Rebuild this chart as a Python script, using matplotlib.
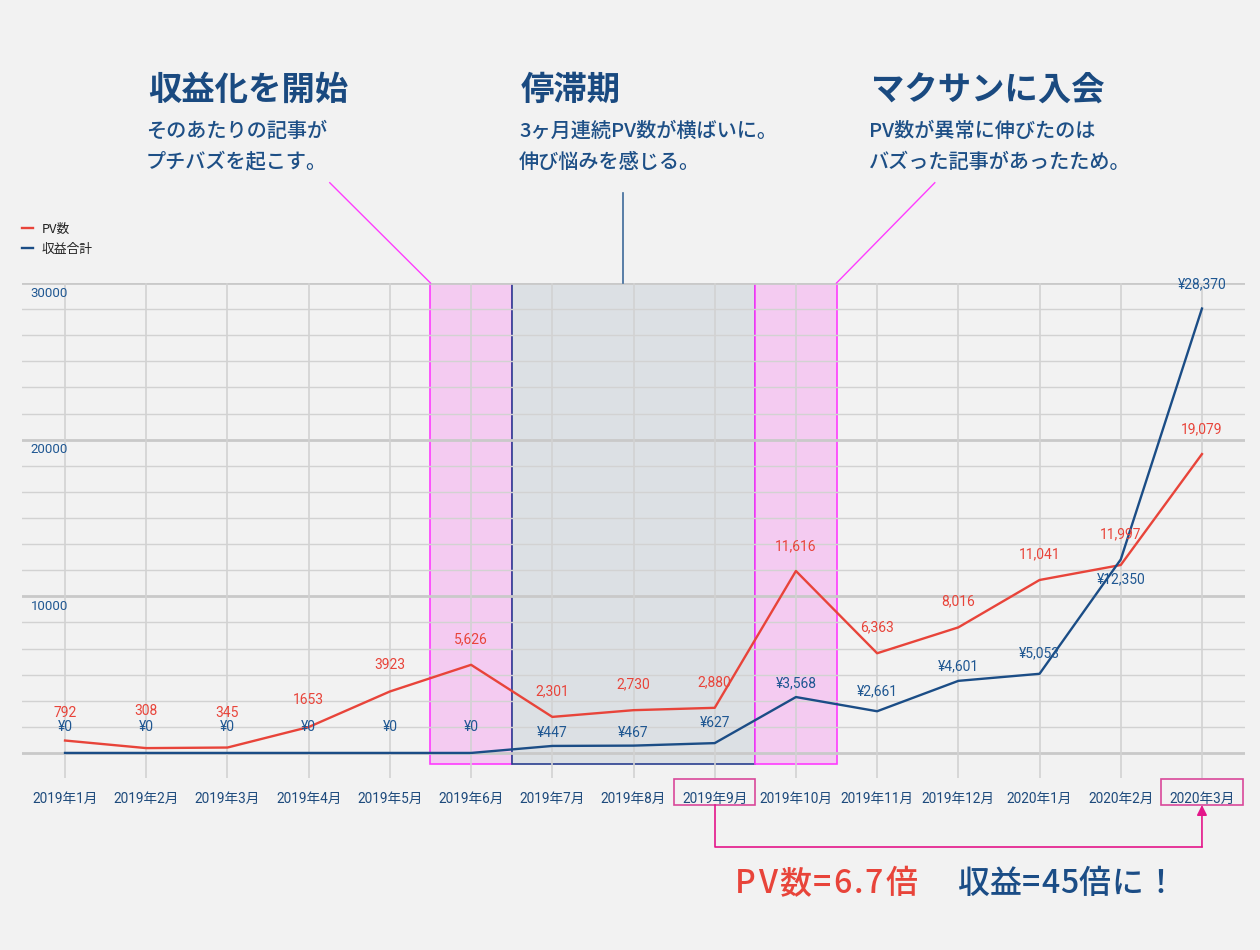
import matplotlib.pyplot as plt
from matplotlib.patches import Rectangle
from matplotlib.transforms import blended_transform_factory

months = ['2019年1月', '2019年2月', '2019年3月', '2019年4月', '2019年5月', '2019年6月',
          '2019年7月', '2019年8月', '2019年9月', '2019年10月', '2019年11月', '2019年12月',
          '2020年1月', '2020年2月', '2020年3月']
pv = [792, 308, 345, 1653, 3923, 5626, 2301, 2730, 2880, 11616, 6363, 8016, 11041, 11997, 19079]
revenue = [0, 0, 0, 0, 0, 0, 447, 467, 627, 3568, 2661, 4601, 5053, 12350, 28370]
pv_text = ['792', '308', '345', '1653', '3923', '5,626', '2,301', '2,730', '2,880',
           '11,616', '6,363', '8,016', '11,041', '11,997', '19,079']
rev_text = ['¥0', '¥0', '¥0', '¥0', '¥0', '¥0', '¥447', '¥467', '¥627', '¥3,568',
            '¥2,661', '¥4,601', '¥5,053', '¥12,350', '¥28,370']
y_labels = [10000, 20000, 30000]

# label offsets in pixels above each point (dodging like the original)
pv_off = [28, 37, 35, 27, 26, 26, 26, 26, 26, 25, 26, 26, 26, 31, 25]
rev_off = [26, 26, 26, 26, 26, 26, 13, 13, 20, 14, 20, 15, 20, -20, 24]

RED = '#e8443a'
BLUE = '#1b4d86'
LBLUE = '#1f5792'
PINK_EDGE = '#ff3cff'
PINK_FILL = '#f4cbf1'
GRAY_FILL = '#dce0e4'
GRAY_EDGE = '#2a3f8f'
BOX = '#d9489a'
BRACKET = '#e4168a'
BG = '#f2f2f2'

plt.rcParams['font.family'] = ['Roboto', 'Noto Sans CJK JP', 'DejaVu Sans']
JP = ['Noto Sans CJK JP', 'DejaVu Sans']

W, H = 1260, 950
fig = plt.figure(figsize=(W / 100, H / 100), dpi=100, facecolor=BG)
ax = fig.add_axes([22 / W, 172 / H, (1245 - 22) / W, 495 / H], facecolor=BG)

x = list(range(len(months)))
ax.set_xlim(-0.53, 14.53)
ax.set_ylim(-1600, 30000)

# grid
for v in range(0, 30001, 10000):
    ax.axhline(v, color='#c9c9c9', lw=2, zorder=1)
for k in range(18):
    v = k * 10000 / 6
    if k % 6:
        ax.axhline(v, color='#d2d2d2', lw=1, zorder=1)
for i in x:
    ax.axvline(i, color='#d2d2d2', lw=1.2, zorder=1)

# highlighted periods
ax.add_patch(Rectangle((4.5, -700), 1, 30700, fc=PINK_FILL, ec=PINK_EDGE, lw=1.2, zorder=0.5))
ax.add_patch(Rectangle((5.5, -700), 3, 30700, fc=GRAY_FILL, ec=GRAY_EDGE, lw=1.2, zorder=0.5))
ax.add_patch(Rectangle((8.5, -700), 1, 30700, fc=PINK_FILL, ec=PINK_EDGE, lw=1.2, zorder=0.5))

# pointer lines to the captions
ax.plot([4.5, 3.26], [30000, 36400], color=PINK_EDGE, lw=1, clip_on=False)
ax.plot([6.87, 6.87], [30000, 35750], color='#3d6a9a', lw=1.2, clip_on=False)
ax.plot([9.5, 10.71], [30000, 36400], color=PINK_EDGE, lw=1, clip_on=False)

ax.plot(x, pv, color=RED, lw=1.7, zorder=3, label='PV数')
ax.plot(x, revenue, color=BLUE, lw=1.7, zorder=3, label='収益合計')

for i in x:
    ax.annotate(pv_text[i], (i, pv[i]), xytext=(0, pv_off[i]), textcoords='offset pixels',
                ha='center', va='center', fontsize=10, color=RED, zorder=4)
    ax.annotate(rev_text[i], (i, revenue[i]), xytext=(0, rev_off[i]), textcoords='offset pixels',
                ha='center', va='center', fontsize=10, color=LBLUE, zorder=4)

trans = blended_transform_factory(ax.transAxes, ax.transData)
for v in y_labels:
    ax.annotate(str(v), (0.007, v), xycoords=trans, xytext=(0, -10), textcoords='offset pixels',
                ha='left', va='center', fontsize=9.5, color=LBLUE)

ax.set_xticks(x, months)
ax.set_yticks([])
ax.tick_params(axis='x', length=0, pad=10, labelsize=9.8, labelcolor='#1d4a7c')
for s in ax.spines.values():
    s.set_visible(False)

# boxes on 2019年9月 and 2020年3月, bracket + arrow
tx = blended_transform_factory(ax.transData, ax.transAxes)
for i in (8, 14):
    ax.add_patch(Rectangle((i - 0.5, -0.0545), 1, 0.0525, transform=tx, fc='none',
                           ec=BOX, lw=1.2, clip_on=False))
ax.plot([8, 8, 14], [-0.0545, -0.139, -0.139], color=BRACKET, lw=1.2, transform=tx, clip_on=False)
ax.annotate('', xy=(14, -0.0545), xycoords=tx, xytext=(14, -0.139), textcoords=tx,
            arrowprops=dict(arrowstyle='-|>', color=BRACKET, lw=1.2, mutation_scale=15,
                            shrinkA=0, shrinkB=0))

fig.legend(loc='upper left', bbox_to_anchor=(10 / W, 1 - 211 / H), frameon=False,
           handlelength=0.9, handletextpad=0.7, labelspacing=0.55,
           labelcolor='#222222', prop={'family': JP, 'size': 9.2})


def px(xp, yp):
    return xp / W, 1 - yp / H


def tracked(xp, yp, s, track, **kw):
    r = fig.canvas.get_renderer()
    for ch in s:
        t = fig.text(*px(xp, yp), ch, ha='left', va='center', **kw)
        xp += t.get_window_extent(renderer=r).width + track


captions = [
    (148, '収益化を開始', ['そのあたりの記事が', 'プチバズを起こす。']),
    (521, '停滞期', ['3ヶ月連続PV数が横ばいに。', '伸び悩みを感じる。']),
    (871, 'マクサンに入会', ['PV数が異常に伸びたのは', 'バズった記事があったため。']),
]
for xp, title, lines in captions:
    fig.text(*px(xp, 90), title, family=JP, fontsize=24, fontweight='bold', color='#1a4a80',
             ha='left', va='center')
    for j, line in enumerate(lines):
        fig.text(*px(xp - 2, 131 + 31 * j), line, family=JP, fontsize=14.5, fontweight='medium',
                 color='#1d4f86', ha='left', va='center')

tracked(735, 884, 'PV数=6.7倍', 2, family=JP, fontsize=23, fontweight='medium', color=RED)
tracked(957, 884, '収益=45倍に！', 0.6, family=JP, fontsize=23, fontweight='medium', color=BLUE)

fig.savefig('out.png', dpi=100, facecolor=BG)
